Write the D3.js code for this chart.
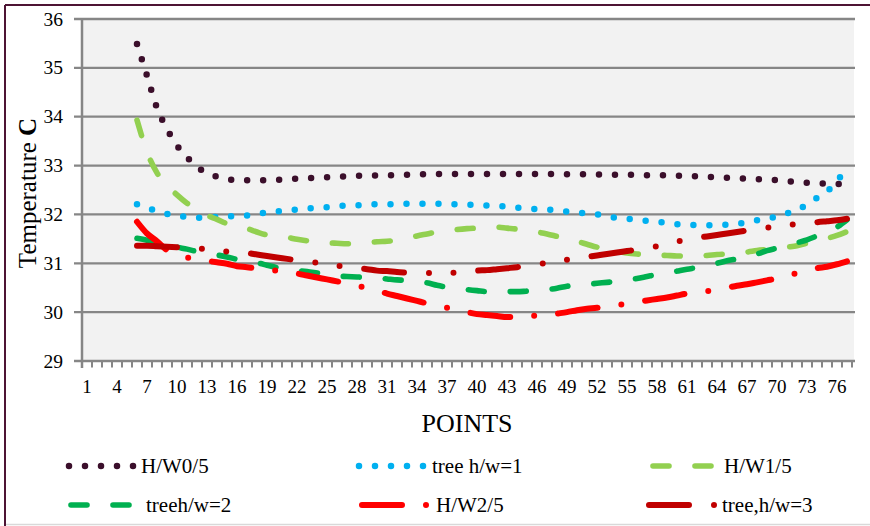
<!DOCTYPE html>
<html>
<head>
<meta charset="utf-8">
<script src="https://cdn.jsdelivr.net/npm/d3@7"></script>
<style>
  html, body { margin: 0; padding: 0; background: #fff; }
  svg { display: block; }
</style>
</head>
<body>
<svg id="chart" width="870" height="526"></svg>
<script>
// ---------------- data ----------------
const firstPoint = 6;          // first category that carries data
const pointCount = 77;         // categories 1..77 on the x axis
const xTickLabels = [1,4,7,10,13,16,19,22,25,28,31,34,37,40,43,46,49,52,55,58,61,64,67,70,73,76];
const yTicks = [29,30,31,32,33,34,35,36];

const hw05 = [35.49,34.84,34.18,33.75,33.41,33.17,32.97,32.85,32.77,32.72,32.70,32.70,32.70,32.70,
  32.71,32.72,32.73,32.74,32.75,32.76,32.77,32.78,32.79,32.79,32.80,32.80,32.81,32.81,32.82,32.82,
  32.83,32.83,32.83,32.83,32.83,32.83,32.83,32.83,32.83,32.83,32.83,32.83,32.83,32.82,32.82,32.82,
  32.82,32.81,32.81,32.81,32.81,32.80,32.80,32.80,32.79,32.79,32.78,32.77,32.76,32.75,32.74,32.73,
  32.72,32.71,32.70,32.68,32.66,32.65,32.64,32.63,32.62,32.64];

const treeHw1 = [32.21,32.13,32.07,32.01,31.97,31.95,31.93,31.94,31.95,31.96,31.97,31.98,32.01,32.04,
  32.06,32.08,32.10,32.12,32.14,32.15,32.17,32.18,32.19,32.19,32.21,32.21,32.21,32.22,32.22,32.22,
  32.22,32.21,32.21,32.20,32.19,32.18,32.17,32.16,32.14,32.12,32.11,32.10,32.08,32.06,32.04,32.02,
  32.00,31.96,31.93,31.91,31.89,31.87,31.85,31.83,31.80,31.79,31.78,31.78,31.78,31.79,31.81,31.84,
  31.88,31.91,31.96,32.02,32.10,32.20,32.34,32.47,32.68,32.97];

const hw15 = [33.93,33.28,32.85,32.60,32.40,32.23,32.10,31.98,31.90,31.81,31.75,31.71,31.64,31.58,
  31.55,31.53,31.49,31.46,31.44,31.42,31.41,31.40,31.41,31.42,31.44,31.45,31.47,31.51,31.56,31.60,
  31.64,31.66,31.69,31.71,31.72,31.73,31.74,31.72,31.70,31.67,31.64,31.60,31.55,31.50,31.45,31.39,
  31.33,31.28,31.25,31.21,31.19,31.18,31.17,31.16,31.15,31.15,31.15,31.16,31.18,31.19,31.21,31.23,
  31.26,31.28,31.30,31.33,31.36,31.41,31.46,31.51,31.57,31.65];

const treeHw2 = [31.51,31.47,31.42,31.38,31.33,31.29,31.24,31.20,31.17,31.13,31.08,31.04,31.01,30.96,
  30.91,30.87,30.85,30.83,30.80,30.77,30.74,30.73,30.72,30.71,30.70,30.68,30.66,30.65,30.62,30.60,
  30.55,30.51,30.48,30.46,30.44,30.42,30.42,30.42,30.42,30.43,30.44,30.46,30.49,30.53,30.55,30.57,
  30.59,30.61,30.63,30.66,30.69,30.73,30.77,30.80,30.84,30.88,30.91,30.95,31.00,31.05,31.09,31.14,
  31.19,31.26,31.31,31.36,31.42,31.48,31.56,31.64,31.74,31.89];

const hw25 = [31.85,31.61,31.45,31.27,31.18,31.12,31.08,31.05,31.02,30.99,30.94,30.92,30.89,30.87,
  30.85,30.82,30.79,30.75,30.71,30.67,30.63,30.59,30.54,30.49,30.44,30.38,30.33,30.28,30.23,30.18,
  30.14,30.09,30.04,30.00,29.96,29.94,29.92,29.90,29.90,29.91,29.93,29.94,29.97,30.00,30.04,30.07,
  30.09,30.12,30.15,30.17,30.21,30.24,30.27,30.30,30.34,30.38,30.40,30.43,30.47,30.50,30.54,30.57,
  30.61,30.65,30.69,30.75,30.80,30.85,30.90,30.93,30.98,31.04];

const treeHw3 = [31.36,31.36,31.35,31.34,31.33,31.32,31.30,31.29,31.26,31.24,31.22,31.21,31.18,31.15,
  31.12,31.09,31.06,31.03,31.01,30.98,30.95,30.93,30.90,30.88,30.85,30.84,30.82,30.81,30.80,30.80,
  30.80,30.80,30.81,30.83,30.85,30.86,30.88,30.90,30.92,30.95,30.98,31.01,31.04,31.07,31.10,31.13,
  31.16,31.19,31.22,31.25,31.28,31.32,31.35,31.39,31.44,31.49,31.52,31.55,31.58,31.61,31.64,31.67,
  31.71,31.73,31.76,31.78,31.80,31.81,31.84,31.86,31.88,31.91];

const seriesNames = ["H/W0/5", "tree h/w=1", "H/W1/5", "treeh/w=2", "H/W2/5", "tree,h/w=3"];
const seriesValues = [hw05, treeHw1, hw15, treeHw2, hw25, treeHw3];

// ---------------- styles ----------------
const FONT = "'Liberation Serif', 'Times New Roman', Times, 'DejaVu Serif', serif";
const styles = [
  { color: "#3b0f2b", width: 6.5, dash: "0 16" },
  { color: "#00b0f0", width: 6.5, dash: "0 16" },
  { color: "#92d050", width: 5.6, dash: "16 26" },
  { color: "#00b050", width: 5.6, dash: "16 26" },
  { color: "#ff0000", width: 6,   dash: "40 24 0 24" },
  { color: "#c00000", width: 6,   dash: "40 25 0 24.5 0 24.8" }
];
const legendPos = [
  { x0: 69, x1: 134, tx: 141, y: 466 },
  { x0: 359, x1: 424, tx: 432, y: 466 },
  { x0: 653, x1: 711, tx: 724, y: 466 },
  { x0: 71, x1: 131, tx: 146, y: 505 },
  { x0: 362, x1: 427, tx: 436, y: 505 },
  { x0: 649, x1: 715, tx: 722, y: 505 }
];

// ---------------- layout ----------------
const svg = d3.select("#chart").attr("font-family", FONT);
const plot = { left: 82, right: 852, top: 19, bottom: 361 };

// outer frame
svg.append("line").attr("x1", 5).attr("x2", 870).attr("y1", 5).attr("y2", 5)
  .attr("stroke", "#4d1434").attr("stroke-width", 2);
svg.append("line").attr("x1", 5).attr("x2", 5).attr("y1", 5).attr("y2", 526)
  .attr("stroke", "#4d1434").attr("stroke-width", 2);
svg.append("line").attr("x1", 6).attr("x2", 870).attr("y1", 524.5).attr("y2", 524.5)
  .attr("stroke", "#d9d9d9").attr("stroke-width", 1.5);

const categories = d3.range(1, pointCount + 1);
const x = d3.scaleBand().domain(categories).range([plot.left, plot.right]).padding(0);
const xc = c => x(c) + x.bandwidth() / 2;
const xEdge = d3.scaleLinear().domain([0, pointCount]).range([plot.left, plot.right]);
const y = d3.scaleLinear().domain([29, 36]).range([plot.bottom, plot.top]);

// plot background
svg.append("rect").attr("x", plot.left).attr("y", plot.top)
  .attr("width", plot.right - plot.left + 2).attr("height", plot.bottom - plot.top)
  .attr("fill", "#f2f2f2");

// gridlines + y ticks
svg.append("g").selectAll("line").data(yTicks).join("line")
  .attr("x1", 74).attr("x2", plot.right + 3)
  .attr("y1", d => y(d)).attr("y2", d => y(d))
  .attr("stroke", "#868686").attr("stroke-width", 2.3);

svg.append("g").selectAll("text").data(yTicks).join("text")
  .attr("x", 63).attr("y", d => y(d)).attr("dy", "0.34em")
  .attr("text-anchor", "end").attr("font-size", 19.5).attr("fill", "#000")
  .attr("font-family", FONT).text(d => d);

// y axis line
svg.append("line").attr("x1", plot.left).attr("x2", plot.left)
  .attr("y1", plot.top - 1).attr("y2", plot.bottom + 7)
  .attr("stroke", "#868686").attr("stroke-width", 2.5);

// x axis ticks at category boundaries
svg.append("g").selectAll("line").data(d3.range(0, pointCount + 1)).join("line")
  .attr("x1", d => xEdge(d)).attr("x2", d => xEdge(d))
  .attr("y1", plot.bottom).attr("y2", plot.bottom + 6.5)
  .attr("stroke", "#868686").attr("stroke-width", 2);

svg.append("g").selectAll("text").data(xTickLabels).join("text")
  .attr("x", d => xc(d)).attr("y", 393)
  .attr("text-anchor", "middle").attr("font-size", 19).attr("fill", "#000")
  .attr("font-family", FONT).text(d => d);

// axis titles
svg.append("text").attr("x", (plot.left + plot.right) / 2).attr("y", 432)
  .attr("text-anchor", "middle").attr("font-size", 26).attr("font-family", FONT)
  .attr("fill", "#000").text("POINTS");

const yt = svg.append("text")
  .attr("transform", "translate(36,193) rotate(-90)")
  .attr("text-anchor", "middle").attr("font-size", 25).attr("font-family", FONT)
  .attr("fill", "#000");
yt.append("tspan").text("Temperature ");
yt.append("tspan").attr("font-weight", "bold").text("C");

// series
const line = d3.line()
  .x((d, i) => xc(firstPoint + i))
  .y(d => y(d))
  .curve(d3.curveMonotoneX);

seriesValues.forEach((vals, k) => {
  const s = styles[k];
  svg.append("path").datum(vals)
    .attr("d", line)
    .attr("fill", "none")
    .attr("stroke", s.color)
    .attr("stroke-width", s.width)
    .attr("stroke-linecap", "round")
    .attr("stroke-linejoin", "round")
    .attr("stroke-dasharray", s.dash);
});

// legend
seriesNames.forEach((name, k) => {
  const s = styles[k], p = legendPos[k];
  svg.append("line")
    .attr("x1", p.x0).attr("x2", p.x1).attr("y1", p.y).attr("y2", p.y)
    .attr("stroke", s.color).attr("stroke-width", s.width)
    .attr("stroke-linecap", "round").attr("stroke-dasharray", s.dash);
  svg.append("text").attr("x", p.tx).attr("y", p.y).attr("dy", "0.34em")
    .attr("font-size", 21).attr("font-family", FONT).attr("fill", "#000").text(name);
});
</script>
</body>
</html>
